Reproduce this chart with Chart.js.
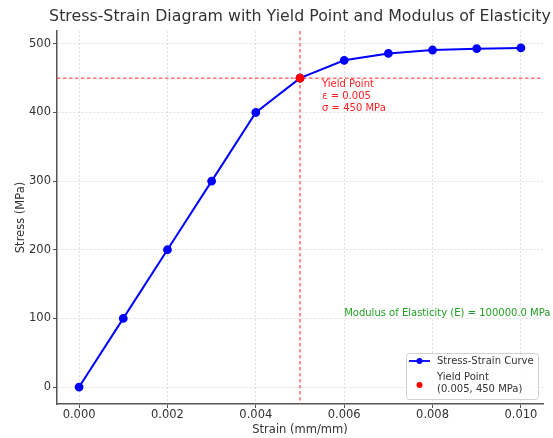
<!DOCTYPE html>
<html>
<head>
<meta charset="utf-8">
<script src="https://cdn.jsdelivr.net/npm/chart.js@4.4.0/dist/chart.umd.min.js"></script>
<style>
  html, body { margin: 0; padding: 0; background: #fff; }
  #wrap { width: 553px; height: 438px; }
</style>
</head>
<body>
<div id="wrap"><canvas id="grafico"></canvas></div>
<script>
// valores
const strain = [0, 0.001, 0.002, 0.003, 0.004, 0.005, 0.006, 0.007, 0.008, 0.009, 0.010];
const stress = [0, 100, 200, 300, 400, 450, 476, 486, 491, 493, 494];
const xTicks = [0, 0.002, 0.004, 0.006, 0.008, 0.010];
const yTicks = [0, 100, 200, 300, 400, 500];
const yieldStrain = 0.005;
const yieldStress = 450;
const modulusE = 100000.0;
const titulo = 'Stress-Strain Diagram with Yield Point and Modulus of Elasticity';

const fonte = 'DejaVu Sans';
const corTexto = '#333';

// linhas tracejadas, textos e legenda desenhados a partir das escalas
const extras = {
    id: 'extras',
    beforeDatasetsDraw(chart) {
        const { ctx, chartArea: a, scales: { x, y } } = chart;
        const px = x.getPixelForValue(yieldStrain);
        const py = y.getPixelForValue(yieldStress);
        ctx.save();
        ctx.strokeStyle = '#ff2a2a';
        ctx.lineWidth = 1;
        ctx.setLineDash([3.5, 2.5]);
        ctx.beginPath();
        ctx.moveTo(a.left, py); ctx.lineTo(a.right, py);
        ctx.moveTo(px, a.top); ctx.lineTo(px, a.bottom);
        ctx.stroke();
        ctx.restore();
    },
    afterDraw(chart) {
        const { ctx, chartArea: a, scales: { x, y } } = chart;
        ctx.save();
        // titulo centrado sobre a area do grafico
        ctx.fillStyle = corTexto;
        ctx.font = '15.8px "' + fonte + '"';
        ctx.textAlign = 'center';
        ctx.textBaseline = 'middle';
        ctx.fillText(titulo, (a.left + a.right) / 2, 17);

        // anotacao do ponto de escoamento
        ctx.fillStyle = '#ff2020';
        ctx.font = '10px "' + fonte + '"';
        ctx.textAlign = 'left';
        ctx.textBaseline = 'top';
        const ax = x.getPixelForValue(0.0055);
        const ay = y.getPixelForValue(yieldStress) + 1;
        ['Yield Point', 'ε = ' + yieldStrain.toFixed(3), 'σ = ' + yieldStress + ' MPa'].forEach(function (t, i) {
            ctx.fillText(t, ax, ay + i * 12);
        });
        // modulo de elasticidade
        ctx.fillStyle = '#22a022';
        ctx.textBaseline = 'bottom';
        ctx.fillText('Modulus of Elasticity (E) = ' + modulusE.toFixed(1) + ' MPa', x.getPixelForValue(0.006), y.getPixelForValue(100));

        // legenda
        const lx = 406, ly = 353, lw = 132, lh = 46;
        ctx.fillStyle = 'rgba(255,255,255,0.9)';
        ctx.strokeStyle = '#d0d0d0';
        ctx.lineWidth = 1;
        ctx.beginPath();
        ctx.roundRect(lx + 0.5, ly + 0.5, lw, lh, 3);
        ctx.fill();
        ctx.stroke();
        ctx.strokeStyle = 'blue';
        ctx.lineWidth = 1.8;
        ctx.beginPath();
        ctx.moveTo(lx + 3, ly + 8); ctx.lineTo(lx + 24, ly + 8);
        ctx.stroke();
        ctx.fillStyle = 'blue';
        ctx.beginPath(); ctx.arc(lx + 13.5, ly + 8, 3, 0, Math.PI * 2); ctx.fill();
        ctx.fillStyle = 'red';
        ctx.beginPath(); ctx.arc(lx + 13.5, ly + 32, 3, 0, Math.PI * 2); ctx.fill();
        ctx.fillStyle = corTexto;
        ctx.textBaseline = 'middle';
        ctx.fillText('Stress-Strain Curve', lx + 31, ly + 8);
        ctx.fillText('Yield Point', lx + 31, ly + 24);
        ctx.fillText('(' + yieldStrain.toFixed(3) + ', ' + yieldStress + ' MPa)', lx + 31, ly + 36);
        ctx.restore();
    }
};

const ctxGraf = document.getElementById('grafico');
new Chart(ctxGraf, {
    type: 'scatter',
    data: {
        datasets: [{
            label: 'Yield Point',
            data: [{ x: yieldStrain, y: yieldStress }],
            showLine: false,
            pointRadius: 4,
            pointBackgroundColor: 'red',
            pointBorderColor: 'red',
            order: 0
        }, {
            label: 'Stress-Strain Curve',
            data: strain.map(function (s, i) { return { x: s, y: stress[i] }; }),
            showLine: true,
            borderColor: 'blue',
            borderWidth: 2,
            pointRadius: 3.4,
            pointBackgroundColor: 'blue',
            pointBorderColor: 'blue',
            order: 1
        }]
    },
    options: {
        responsive: true,
        maintainAspectRatio: false,
        animation: false,
        layout: { padding: { top: 31, left: 0, right: 10, bottom: 0 } },
        plugins: {
            legend: { display: false },
            tooltip: { enabled: false },
            title: { display: false }
        },
        scales: {
            x: {
                type: 'linear',
                min: -0.0005,
                max: 0.0105,
                afterFit(scale) { scale.height = 34; },
                afterBuildTicks(scale) { scale.ticks = xTicks.map(function (v) { return { value: v }; }); },
                ticks: {
                    color: corTexto,
                    font: { family: fonte, size: 11.5 },
                    padding: 0,
                    maxRotation: 0,
                    callback: function (v) { return v.toFixed(3); }
                },
                grid: { color: '#e0e0e0', tickColor: '#555', tickLength: 4 },
                border: { color: '#555', width: 1.5, dash: [2, 2] },
                title: {
                    display: true,
                    text: 'Strain (mm/mm)',
                    color: corTexto,
                    font: { family: fonte, size: 11.5 },
                    padding: { top: 0, bottom: 1 }
                }
            },
            y: {
                min: -24.7,
                max: 518.7,
                afterFit(scale) { scale.width = 57; },
                afterBuildTicks(scale) { scale.ticks = yTicks.map(function (v) { return { value: v }; }); },
                ticks: {
                    color: corTexto,
                    font: { family: fonte, size: 11.5 },
                    padding: 2
                },
                grid: { color: '#e0e0e0', tickColor: '#555', tickLength: 4 },
                border: { color: '#555', width: 1.5, dash: [2, 2] },
                title: {
                    display: true,
                    text: 'Stress (MPa)',
                    color: corTexto,
                    font: { family: fonte, size: 11.5 },
                    padding: { top: 14, bottom: 0 }
                }
            }
        }
    },
    plugins: [extras]
});
</script>
</body>
</html>
